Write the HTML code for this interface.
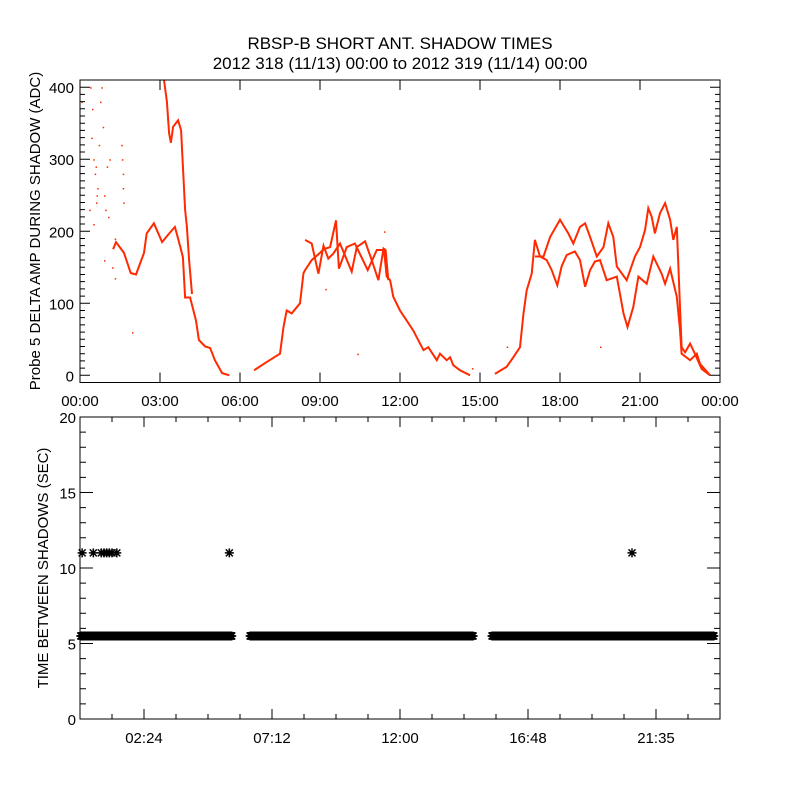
<!DOCTYPE html>
<html><head><meta charset="utf-8">
<style>
html,body{margin:0;padding:0;background:#fff;}
svg{display:block;}
text{font-family:"Liberation Sans",sans-serif;fill:#000;}
</style></head>
<body>
<svg id="chart" width="800" height="800" viewBox="0 0 800 800" xmlns="http://www.w3.org/2000/svg">
<rect width="800" height="800" fill="#fff"/>
<text x="400" y="49" font-size="17" text-anchor="middle">RBSP-B SHORT ANT. SHADOW TIMES</text>
<text x="400" y="69" font-size="17" text-anchor="middle">2012 318 (11/13) 00:00 to 2012 319 (11/14) 00:00</text>
<g id="topPanel"></g>
<g id="botPanel"></g>
</svg>
<script>
// ---- Top panel data (hours, ADC) ----
const earlyMain = [[1.24,175],[1.35,185],[1.65,170],[1.9,142],[2.1,140],[2.4,170],[2.5,197],[2.77,211],[3.08,185],[3.3,195],[3.56,206],[3.75,180],[3.86,164],[3.94,108],[4.13,108],[4.35,76],[4.46,49],[4.69,40],[4.88,38],[5.06,21],[5.33,3],[5.6,0]];
const earlyUpper = [[3.15,410],[3.26,380],[3.34,336],[3.41,323],[3.49,345],[3.68,354],[3.79,340],[3.86,290],[3.94,230],[4.01,206],[4.09,160],[4.2,113]];
const midMain = [[6.53,7],[6.94,17],[7.5,30],[7.63,67],[7.75,90],[7.94,86],[8.25,100],[8.38,142],[8.44,146],[8.69,160],[9.0,170],[9.13,175],[9.38,178],[9.6,215],[9.71,148],[10.0,178],[10.31,183],[10.79,146],[11.13,174],[11.4,174],[11.5,137],[11.63,132],[11.75,109],[12.0,90],[12.25,76],[12.5,62],[12.75,44],[12.88,35],[13.06,39],[13.38,21],[13.5,30],[13.75,21],[13.88,25],[14.0,14],[14.25,7],[14.63,0]];
const midUpper = [[8.44,188],[8.69,183],[8.94,141],[9.13,180],[9.31,162],[9.5,169],[9.75,183],[10.19,144],[10.38,178],[10.69,186],[10.94,160],[11.19,132],[11.38,176],[11.46,174],[11.56,132]];
const lateMain = [[15.56,2],[16.0,12],[16.25,25],[16.5,39],[16.63,86],[16.75,118],[16.94,141],[17.06,188],[17.25,165],[17.5,160],[17.69,146],[17.9,125],[18.06,151],[18.25,167],[18.56,172],[18.75,160],[18.94,123],[19.13,146],[19.31,158],[19.5,160],[19.75,132],[20.13,137],[20.38,86],[20.53,67],[20.75,95],[20.94,137],[21.25,127],[21.5,165],[21.81,141],[21.94,127],[22.13,148],[22.38,109],[22.5,63],[22.56,30],[22.88,21],[23.13,30],[23.25,16],[23.63,0]];
const lateUpper = [[17.06,165],[17.38,165],[17.63,192],[18.0,216],[18.31,197],[18.5,183],[18.75,206],[18.94,211],[19.13,192],[19.38,165],[19.63,178],[19.81,211],[20.0,192],[20.13,151],[20.5,132],[20.81,165],[21.0,178],[21.19,202],[21.31,232],[21.44,220],[21.56,197],[21.75,225],[21.94,239],[22.13,216],[22.25,188],[22.38,206],[22.44,151],[22.5,95],[22.56,39],[22.69,32],[22.88,44],[23.06,30],[23.31,9],[23.63,0]];
const scatterPts = [[0.05,380],[0.38,400],[0.45,370],[0.5,300],[0.55,280],[0.6,240],[0.65,260],[0.7,320],[0.75,380],[0.8,400],[0.85,345],[0.9,250],[0.95,230],[1.0,290],[1.05,220],[1.1,300],[1.2,150],[1.3,190],[1.55,320],[1.6,280],[1.62,240],[1.95,60],[0.35,230],[0.5,210],[1.3,135],[0.9,160],[0.42,330],[0.58,290],[0.62,250],[1.57,300],[1.6,260],[10.4,30],[14.7,10],[16.0,40],[19.5,40],[9.2,120],[11.4,200]];
const topYTicks = [0,100,200,300,400];
const topXTicks = ["00:00","03:00","06:00","09:00","12:00","15:00","18:00","21:00","00:00"];
// ---- Bottom panel data (hours, seconds) ----
const bandStarts = [0.03,6.38,15.45];
const bandEnds = [5.7,14.74,23.78];
const bandValue = 5.5;
const longGapTimes = [0.08,0.5,0.8,0.9,1.0,1.1,1.2,1.38,5.6,20.7];
const longGapValues = [11,11,11,11,11,11,11,11,11,11];
const botYTicks = [0,5,10,15,20];
const botXTickLabels = ["02:24","07:12","12:00","16:48","21:35"];
const botXTickHours = [2.4,7.2,12.0,16.8,21.6];

const NS="http://www.w3.org/2000/svg";
function mk(tag, attrs, parent){const e=document.createElementNS(NS,tag);for(const k in attrs)e.setAttribute(k,attrs[k]);parent.appendChild(e);return e;}
const L=80,R=720;
const xs=h=>L+(R-L)*h/24;
// top
const T0=80,T1=382.5, yT=v=>T1-(v+10)*(T1-T0)/420;
const topG=document.getElementById('topPanel');
const red="#ff2a00";
function drawLine(arr,name){
  const p=mk('polyline',{points:arr.map(d=>xs(d[0]).toFixed(1)+','+yT(d[1]).toFixed(1)).join(' '),fill:'none',stroke:red,'stroke-width':'2'},topG);
  
  
}
drawLine(earlyMain,'early-main-trace');drawLine(earlyUpper,'early-upper-trace');
drawLine(midMain,'mid-main-trace');drawLine(midUpper,'mid-upper-trace');
drawLine(lateMain,'late-main-trace');drawLine(lateUpper,'late-upper-trace');
scatterPts.forEach(d=>{
  const r=mk('rect',{x:xs(d[0]).toFixed(1),y:yT(d[1]).toFixed(1),width:1.5,height:1.5,fill:red},topG);
  
  
});
mk('rect',{x:L,y:T0,width:R-L,height:T1-T0,fill:'none',stroke:'#000','stroke-width':'1'},topG);
let tk='';
for(let v=-10;v<=410;v+=10){const y=yT(v);const len=(v%100===0)?10:5;tk+=`M${L} ${y}h${len}M${R} ${y}h${-len}`;}
for(let h=0;h<=24;h+=3){const x=xs(h);tk+=`M${x} ${T1}v-10M${x} ${T0}v10`;}
mk('path',{d:tk,stroke:'#000','stroke-width':'1',fill:'none'},topG);
topYTicks.forEach(v=>{const t=mk('text',{x:74,y:yT(v)+6,'font-size':'15','text-anchor':'end'},topG);t.textContent=v;
  });
topXTicks.forEach((s,i)=>{const t=mk('text',{x:xs(i*3),y:406,'font-size':'15','text-anchor':'middle'},topG);t.textContent=s;
  });
const tt=mk('text',{x:0,y:0,'font-size':'15','text-anchor':'middle',transform:'translate(40,231) rotate(-90)'},topG);
tt.textContent='Probe 5 DELTA AMP DURING SHADOW (ADC)';

// bottom
const B0=417,B1=719,yB=v=>B1-v*(B1-B0)/20;
const botG=document.getElementById('botPanel');
function star(h,v,name){
  const x=xs(h),y=yB(v);
  const p=mk('path',{d:`M${x-4.5} ${y}h9M${x} ${y-4.5}v9M${x-3.5} ${y-3.5}l7 7M${x-3.5} ${y+3.5}l7 -7`,stroke:'#000','stroke-width':'1.5',fill:'none'},botG);
  
  
}
bandStarts.forEach((s,i)=>{
  for(let h=s;h<=bandEnds[i]+1e-6;h+=0.02) star(h,bandValue,'interval-point');
});
longGapTimes.forEach((h,i)=>star(h,longGapValues[i],'long-interval-point'));
mk('rect',{x:L,y:B0,width:R-L,height:B1-B0,fill:'none',stroke:'#000','stroke-width':'1'},botG);
let bk='';
for(let v=0;v<=20;v+=1){const y=yB(v);const len=(v%5===0)?13:6;bk+=`M${L} ${y}h${len}M${R} ${y}h${-len}`;}
for(let h=0;h<=24.01;h+=1.2){const x=xs(h);const major=Math.round(h/1.2)%4===2;const len=major?10:5;bk+=`M${x} ${B1}v${-len}M${x} ${B0}v${len}`;}
mk('path',{d:bk,stroke:'#000','stroke-width':'1',fill:'none'},botG);
botYTicks.forEach(v=>{const t=mk('text',{x:76,y:yB(v)+6,'font-size':'15','text-anchor':'end'},botG);t.textContent=v;
  });
botXTickLabels.forEach((s,i)=>{const t=mk('text',{x:xs(botXTickHours[i]),y:743,'font-size':'15','text-anchor':'middle'},botG);t.textContent=s;
  });
const bt=mk('text',{x:0,y:0,'font-size':'15','text-anchor':'middle',transform:'translate(48,568) rotate(-90)'},botG);
bt.textContent='TIME BETWEEN SHADOWS (SEC)';

</script>
</body></html>
